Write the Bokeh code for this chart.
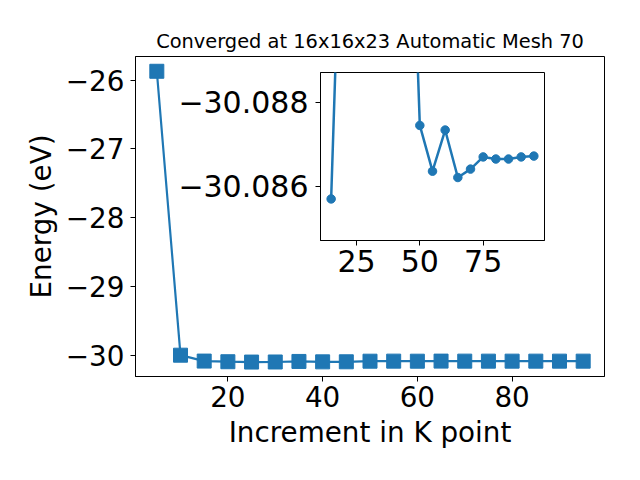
from bokeh.plotting import figure
from bokeh.layouts import column
from bokeh.models import (GridBox, Range1d, FixedTicker, CustomJSTickFormatter,
                          ColumnDataSource)
from bokeh.embed import file_html
from bokeh.resources import INLINE

# ---- data ----
kpoints = [5, 10, 15, 20, 25, 30, 35, 40, 45, 50, 55, 60, 65, 70, 75, 80, 85, 90, 95]
energy = [-25.87, -30.00, -30.0857, -30.095, -30.100, -30.099, -30.091, -30.097,
          -30.096, -30.08745, -30.08636, -30.08734, -30.08621, -30.08641,
          -30.08670, -30.08665, -30.08665, -30.08670, -30.08672]
inset_kpoints = kpoints[2:]
inset_energy = energy[2:]

title_text = "Converged at 16x16x23 Automatic Mesh 70"
x_label = "Increment in K point"
y_label = "Energy (eV)"
x_ticks = [20, 40, 60, 80]
y_ticks = [-30, -29, -28, -27, -26]
inset_x_ticks = [25, 50, 75]
inset_y_ticks = [-30.088, -30.086]

BLUE = "#1f77b4"
FONT = "DejaVu Sans"
W, H = 640, 480

def minus_fmt(digits):
    return CustomJSTickFormatter(code=
        "return (tick < 0 ? '\\u2212' : '') + Math.abs(tick).toFixed(%d);" % digits)

def style_axes(fig, size):
    for ax in (fig.xaxis[0], fig.yaxis[0]):
        ax.major_label_text_font = FONT
        ax.major_label_text_font_size = size
        ax.major_label_text_color = "black"
        ax.axis_label_text_font = FONT
        ax.axis_label_text_font_style = "normal"
        ax.axis_label_text_color = "black"
        ax.axis_line_color = "black"
        ax.major_tick_line_color = "black"
        ax.major_tick_in = 0
        ax.major_tick_out = 5
        ax.minor_tick_line_color = None
    fig.grid.visible = False
    fig.outline_line_color = "black"
    fig.outline_line_width = 1
    fig.outline_line_alpha = 1

# ---- main figure ----
p = figure(width=W, height=H, output_backend="svg", toolbar_location=None,
           x_range=Range1d(0.5, 99.5), y_range=Range1d(-30.31, -25.655),
           min_border_left=135, min_border_right=36, min_border_top=56,
           min_border_bottom=104)
p.title.text = title_text
p.title.text_font = FONT
p.title.text_font_style = "normal"
p.title.text_font_size = "19.4px"
p.title.text_color = "black"
p.title.align = "center"
p.title.standoff = 8
style_axes(p, "27.8px")
p.xaxis.ticker = FixedTicker(ticks=x_ticks)
p.yaxis.ticker = FixedTicker(ticks=y_ticks)
p.xaxis.formatter = minus_fmt(0)
p.yaxis.formatter = minus_fmt(0)
p.xaxis.axis_label = x_label
p.yaxis.axis_label = y_label
p.xaxis.axis_label_text_font_size = "27.8px"
p.yaxis.axis_label_text_font_size = "27.8px"
p.xaxis.major_label_standoff = 4
p.yaxis.major_label_standoff = 6
p.xaxis.axis_label_standoff = 6
p.yaxis.axis_label_standoff = 5

src = ColumnDataSource(dict(x=kpoints, y=energy))
p.line("x", "y", source=src, color=BLUE, line_width=2.2)
p.scatter("x", "y", source=src, marker="square", size=14, color=BLUE)

# ---- inset figure (overlaid in the same grid cell) ----
q = figure(width=W, height=H, output_backend="svg", toolbar_location=None,
           x_range=Range1d(10.8, 99.2), y_range=Range1d(-30.08471, -30.08871),
           min_border_left=320, min_border_right=96, min_border_top=72,
           min_border_bottom=240)
q.border_fill_alpha = 0
q.background_fill_color = "white"
style_axes(q, "30px")
q.xaxis.ticker = FixedTicker(ticks=inset_x_ticks)
q.yaxis.ticker = FixedTicker(ticks=inset_y_ticks)
q.xaxis.formatter = minus_fmt(0)
q.yaxis.formatter = minus_fmt(3)
q.xaxis.major_label_standoff = 4
q.yaxis.major_label_standoff = 7

isrc = ColumnDataSource(dict(x=inset_kpoints, y=inset_energy))
q.line("x", "y", source=isrc, color=BLUE, line_width=2.5)
q.scatter("x", "y", source=isrc, marker="circle", size=8.5, color=BLUE)

grid = GridBox(children=[(column(p, width=W, height=H), 0, 0),
                         (column(q, width=W, height=H), 0, 0)],
               width=W, height=H)

open("out.html", "w").write(file_html(grid, INLINE))
